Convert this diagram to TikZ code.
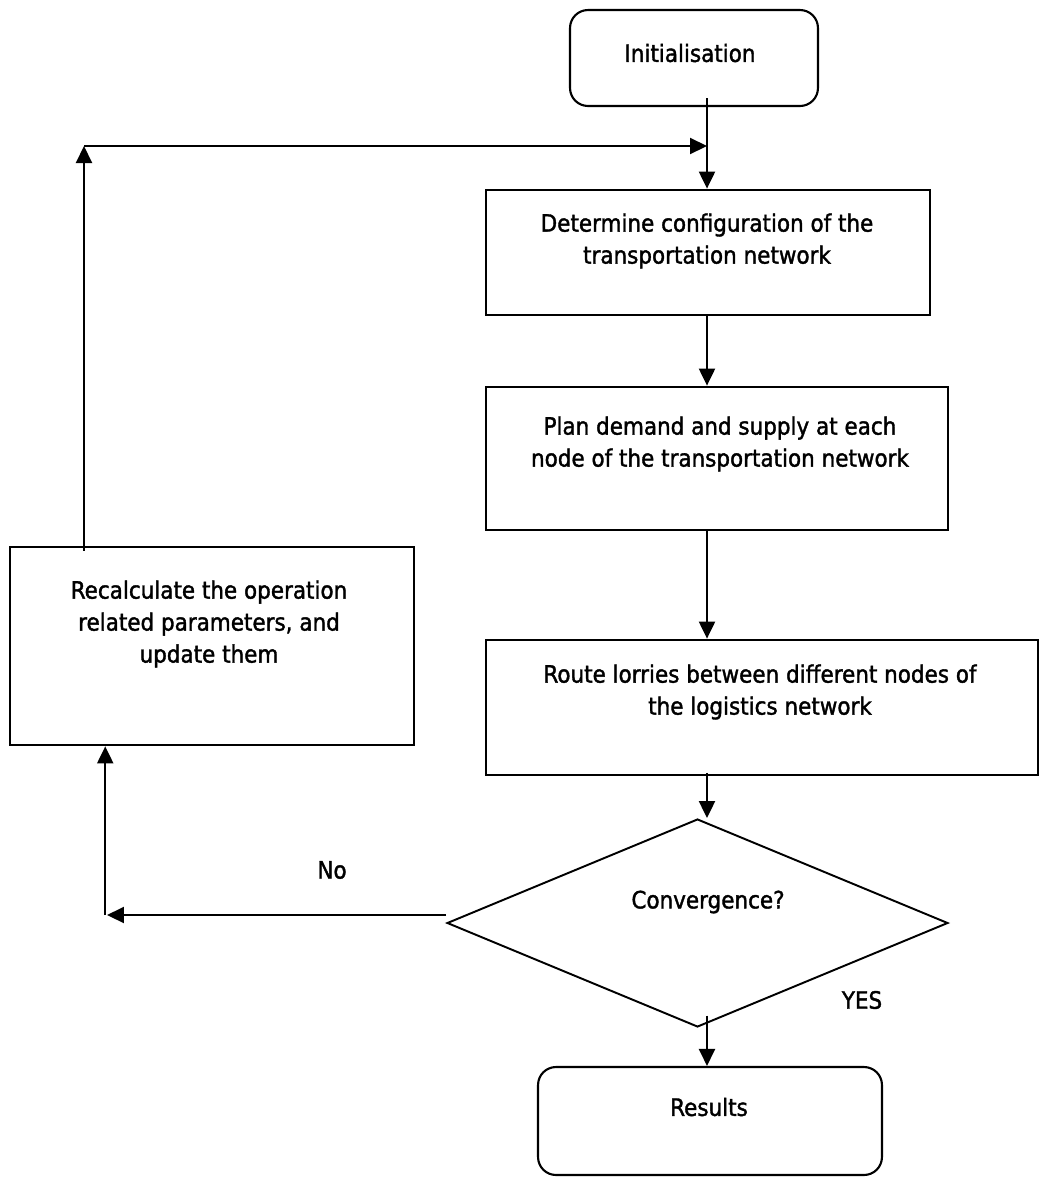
\documentclass[tikz,border=0pt]{standalone}
\usepackage{fontspec}
\setmainfont{DejaVu Sans Condensed}[FakeBold=1.5]
\usetikzlibrary{arrows.meta,shapes.geometric}

\tikzset{
  stepbox/.style={draw, line width=1.6pt, inner sep=0pt},
  endbox/.style={stepbox, line width=1.2pt, rounded corners=0.36cm},
  decision/.style={draw, diamond, line width=1.1pt, inner sep=0pt},
  txt/.style={align=center, inner sep=0pt, font=\fontsize{13.6}{18.2}\selectfont},
  arr/.style={-{Triangle[length=0.34cm,width=0.32cm]}, line width=1.2pt},
}

\begin{document}
\begin{tikzpicture}[x=0.02cm, y=-0.02cm]
	%%%%% frame %%%%%
	\useasboundingbox (0,0) rectangle (1040,1177);
	
	%%%%% boxes %%%%%
	\node[endbox, minimum width=4.96cm, minimum height=1.92cm] (init) at (694,58) {};
	\node[stepbox, minimum width=8.88cm, minimum height=2.5cm] (config) at (708,252.5) {};
	\node[stepbox, minimum width=9.24cm, minimum height=2.86cm] (plan) at (717,458.5) {};
	\node[stepbox, minimum width=11.04cm, minimum height=2.7cm] (route) at (762,707.5) {};
	\node[decision, minimum width=10.02cm, minimum height=4.16cm] (conv) at (697.5,923) {};
	\node[endbox, minimum width=6.88cm, minimum height=2.16cm] (results) at (710,1121) {};
	\node[stepbox, minimum width=8.08cm, minimum height=3.96cm] (recalc) at (212,646) {};
	
	%%%%% texts %%%%%
	\node[txt] (inittxt) at (690,53) {Initialisation};
	\node[txt] (configtxt) at (707,241) {Determine configuration of the\\transportation network};
	\node[txt] (plantxt) at (720,444) {Plan demand and supply at each\\node of the transportation network};
	\node[txt] (routetxt) at (760,692) {Route lorries between different nodes of\\the logistics network};
	\node[txt] (convtxt) at (708,902) {Convergence?};
	\node[txt] (resultstxt) at (709,1107) {Results};
	\node[txt] (recalctxt) at (209,624) {Recalculate the operation\\related parameters, and\\update them};
	\node[txt] (no) at (332,870) {No};
	\node[txt] (yes) at (862,1000) {YES};
	
	%%%%% connectors %%%%%
	\coordinate (main) at (707,0);
	\coordinate (back) at (84,146);
	\coordinate (nocorner) at (107,915);
	
	\draw[arr] ([yshift=5pt]init.south -| main) -- (config.north -| main);
	\draw[arr] (config.south -| main) -- (plan.north -| main);
	\draw[arr] (plan.south -| main) -- (route.north -| main);
	\draw[arr] ([yshift=2pt]route.south -| main) -- (conv.north -| main);
	\draw[arr] ([yshift=7pt]conv.south -| main) -- (results.north -| main);
	
	\draw[arr] (conv.west |- nocorner) -- (nocorner);
	\draw[arr] ([xshift=-1pt]nocorner) -- ([xshift=-1pt]nocorner |- recalc.south);
	\draw[arr] ([yshift=-3pt]recalc.north -| back) -- (back);
	\draw[arr] (back) -- (back -| main);
	
\end{tikzpicture}
\end{document}
